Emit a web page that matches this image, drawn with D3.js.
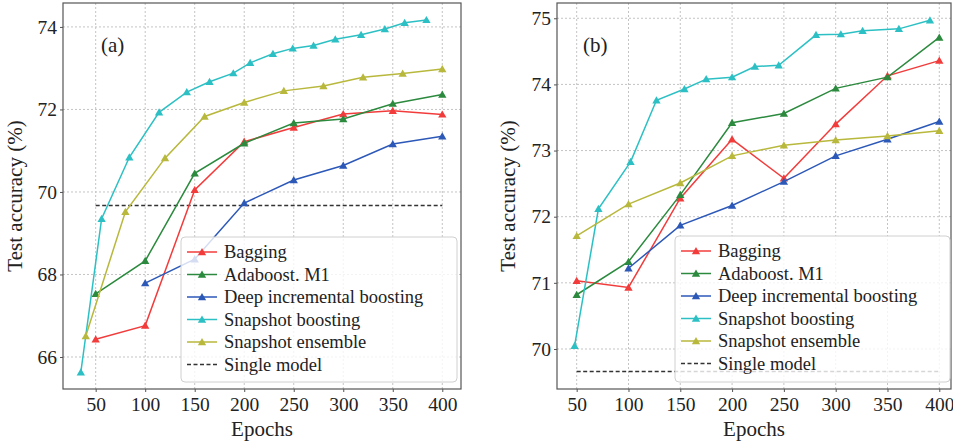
<!DOCTYPE html>
<html><head><meta charset="utf-8">
<script src="https://cdn.jsdelivr.net/npm/d3@7"></script>
<style>body{margin:0;background:#fff}svg{display:block}svg text{font-family:"Liberation Serif","Times New Roman",Times,serif !important}</style>
</head><body><svg id="c" width="953" height="446"></svg>
<script>
// ---- data ----
const seriesNames = ["Bagging","Adaboost. M1","Deep incremental boosting","Snapshot boosting","Snapshot ensemble"];
const xTicks = [50,100,150,200,250,300,350,400];
const yTicksA = [66,68,70,72,74];
const yTicksB = [70,71,72,73,74,75];

// panel (a)
const aBaggingX = [50,100,150,200,250,300,350,400];
const aBaggingY = [66.43,66.76,70.05,71.22,71.56,71.89,71.97,71.88];
const aAdaX = [50,100,150,200,250,300,350,400];
const aAdaY = [67.53,68.33,70.45,71.18,71.67,71.77,72.14,72.36];
const aDibX = [100,150,200,250,300,350,400];
const aDibY = [67.79,68.37,69.73,70.29,70.64,71.16,71.35];
const aSbX = [35,56,84,114,142,165,189,206,229,249,270,292,318,342,362,384];
const aSbY = [65.63,69.35,70.84,71.93,72.42,72.67,72.88,73.13,73.35,73.48,73.55,73.70,73.81,73.95,74.10,74.17];
const aSeX = [40,80,120,160,200,240,280,320,360,400];
const aSeY = [66.51,69.52,70.82,71.83,72.17,72.45,72.57,72.78,72.87,72.98];
const aSingle = 69.67;

// panel (b)
const bBaggingX = [50,100,150,200,250,300,350,400];
const bBaggingY = [71.03,70.93,72.28,73.17,72.58,73.40,74.13,74.36];
const bAdaX = [50,100,150,200,250,300,350,400];
const bAdaY = [70.82,71.32,72.33,73.42,73.56,73.94,74.11,74.71];
const bDibX = [100,150,200,250,300,350,400];
const bDibY = [71.22,71.87,72.17,72.53,72.92,73.17,73.44];
const bSbX = [48,71,102,127,154,175,200,222,245,281,305,326,361,391];
const bSbY = [70.05,72.12,72.83,73.76,73.93,74.08,74.11,74.27,74.29,74.75,74.76,74.81,74.84,74.97];
const bSeX = [50,100,150,200,250,300,350,400];
const bSeY = [71.71,72.19,72.51,72.92,73.08,73.16,73.22,73.30];
const bSingle = 69.66;

const colors = ["#f23c3c","#2b8a3e","#2c58b8","#2cc0c4","#b8b83c"];
const font = "Liberation Serif, Times New Roman, serif";

const svg = d3.select("#c");

function panel(cfg){
  const g = svg.append("g");
  const x = d3.scaleLinear().domain(cfg.xd).range([cfg.x0,cfg.x1]);
  const y = d3.scaleLinear().domain(cfg.yd).range([cfg.y1,cfg.y0]);
  // grid
  g.append("g").selectAll("line").data(xTicks).join("line")
    .attr("x1",d=>x(d)).attr("x2",d=>x(d)).attr("y1",cfg.y0).attr("y2",cfg.y1)
    .attr("stroke","#c4c4c4").attr("stroke-width",1).attr("stroke-dasharray","2,2");
  g.append("g").selectAll("line").data(cfg.yTicks).join("line")
    .attr("x1",cfg.x0).attr("x2",cfg.x1).attr("y1",d=>y(d)).attr("y2",d=>y(d))
    .attr("stroke","#c4c4c4").attr("stroke-width",1).attr("stroke-dasharray","2,2");
  // axes
  const xa = g.append("g").attr("transform",`translate(0,${cfg.y1})`)
    .call(d3.axisBottom(x).tickValues(xTicks).tickFormat(d3.format("d")).tickSize(3).tickPadding(5));
  const ya = g.append("g").attr("transform",`translate(${cfg.x0},0)`)
    .call(d3.axisLeft(y).tickValues(cfg.yTicks).tickFormat(d3.format("d")).tickSize(3).tickPadding(3));
  [xa,ya].forEach(a=>{
    a.attr("font-family",font);
    a.select(".domain").remove();
    a.selectAll("line").attr("stroke","#555");
    a.selectAll("text").attr("font-family",font).attr("font-size",19.5).attr("fill","#222");
  });
  // single model
  g.append("line").attr("x1",x(50)).attr("x2",x(400)).attr("y1",y(cfg.single)).attr("y2",y(cfg.single))
    .attr("stroke","#333").attr("stroke-width",1.5).attr("stroke-dasharray","4,2.5");
  const line = d3.line().x(d=>x(d[0])).y(d=>y(d[1]));
  const tri = d3.symbol().type(d3.symbolTriangle).size(30);
  cfg.series.forEach((s,i)=>{
    const pts = s[0].map((v,j)=>[v,s[1][j]]);
    g.append("path").datum(pts).attr("d",line).attr("fill","none")
      .attr("stroke",colors[i]).attr("stroke-width",1.5);
    g.append("g").selectAll("path").data(pts).join("path")
      .attr("d",tri).attr("transform",d=>`translate(${x(d[0])},${y(d[1])+0.8})`)
      .attr("fill",colors[i]);
  });
  // frame
  g.append("rect").attr("x",cfg.x0).attr("y",cfg.y0).attr("width",cfg.x1-cfg.x0).attr("height",cfg.y1-cfg.y0)
    .attr("fill","none").attr("stroke","#555").attr("stroke-width",1.2);
  // panel label
  g.append("text").attr("x",cfg.lab[0]).attr("y",cfg.lab[1]).text(cfg.label)
    .attr("font-family",font).attr("font-size",21).attr("fill","#222");
  // axis labels
  g.append("text").attr("x",(cfg.x0+cfg.x1)/2).attr("y",436).attr("text-anchor","middle")
    .text("Epochs").attr("font-family",font).attr("font-size",21).attr("fill","#222");
  g.append("text").attr("transform",`translate(${cfg.ylx},${(cfg.y0+cfg.y1)/2}) rotate(-90)`)
    .attr("text-anchor","middle").text("Test accuracy (%)")
    .attr("font-family",font).attr("font-size",21).attr("fill","#222");
  // legend
  const L = cfg.leg;
  const lg = g.append("g");
  lg.append("rect").attr("x",L.x).attr("y",L.y).attr("width",L.w).attr("height",L.h).attr("rx",4)
    .attr("fill","#fff").attr("fill-opacity",0.8).attr("stroke","#d0d0d0").attr("stroke-width",1);
  const names = seriesNames.concat(["Single model"]);
  names.forEach((n,i)=>{
    const yy = L.y + 15 + i*22.5;
    const lx0 = L.x + 6, lx1 = L.x + 36;
    if(i<5){
      lg.append("line").attr("x1",lx0).attr("x2",lx1).attr("y1",yy).attr("y2",yy)
        .attr("stroke",colors[i]).attr("stroke-width",1.5);
      lg.append("path").attr("d",tri).attr("transform",`translate(${(lx0+lx1)/2},${yy+0.8})`).attr("fill",colors[i]);
    } else {
      lg.append("line").attr("x1",lx0).attr("x2",lx1).attr("y1",yy).attr("y2",yy)
        .attr("stroke","#333").attr("stroke-width",1.5).attr("stroke-dasharray","4,2.5");
    }
    lg.append("text").attr("x",L.x+43).attr("y",yy).attr("dy","0.35em").text(n)
      .attr("font-family",font).attr("font-size",18.5).attr("fill","#222");
  });
}

panel({x0:63,x1:461,y0:3,y1:389,xd:[17.0,418.9],yd:[65.224,74.58],yTicks:yTicksA,
  single:aSingle,label:"(a)",lab:[101,52],ylx:22,
  leg:{x:181,y:237,w:276,h:145},
  series:[[aBaggingX,aBaggingY],[aAdaX,aAdaY],[aDibX,aDibY],[aSbX,aSbY],[aSeX,aSeY]]});
panel({x0:557,x1:951,y0:3,y1:389,xd:[31.0,411.3],yd:[69.395,75.231],yTicks:yTicksB,
  single:bSingle,label:"(b)",lab:[583,52],ylx:515,
  leg:{x:675,y:236,w:275,h:146},
  series:[[bBaggingX,bBaggingY],[bAdaX,bAdaY],[bDibX,bDibY],[bSbX,bSbY],[bSeX,bSeY]]});
</script></body></html>
